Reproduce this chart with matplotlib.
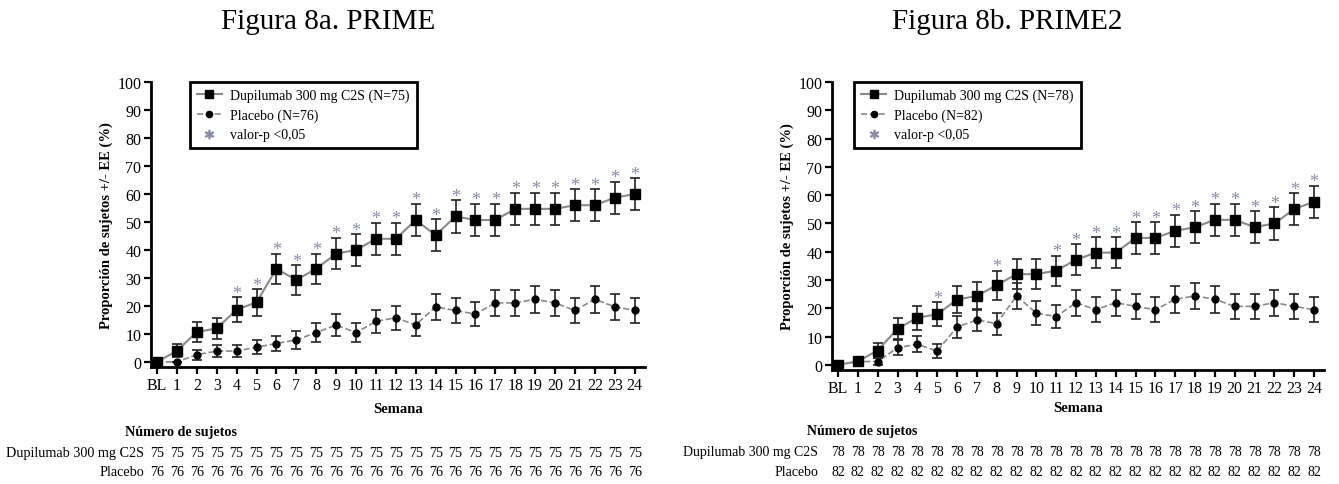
import matplotlib
matplotlib.use("Agg")
import matplotlib.pyplot as plt
from matplotlib.lines import Line2D
from matplotlib.transforms import blended_transform_factory

plt.rcParams['font.family'] = ['Liberation Serif', 'DejaVu Serif']

semanas = ['BL'] + [str(i) for i in range(1, 25)]

# Figura 8a - PRIME
dupi_a = [0, 4.0, 10.7, 12.0, 18.7, 21.3, 33.3, 29.3, 33.3, 38.7, 40.0, 44.0, 44.0,
          50.7, 45.3, 52.0, 50.7, 50.7, 54.7, 54.7, 54.7, 56.0, 56.0, 58.7, 60.0]
dupi_a_ee = [0, 2.3, 3.6, 3.8, 4.5, 4.7, 5.4, 5.3, 5.4, 5.6, 5.7, 5.7, 5.7,
             5.8, 5.7, 5.8, 5.8, 5.8, 5.7, 5.7, 5.7, 5.7, 5.7, 5.7, 5.7]
plac_a = [0, 0.0, 2.6, 3.9, 3.9, 5.3, 6.6, 7.9, 10.5, 13.2, 10.5, 14.5, 15.8,
          13.2, 19.7, 18.4, 17.1, 21.1, 21.1, 22.4, 21.1, 18.4, 22.4, 19.7, 18.4]
plac_a_ee = [0, 0, 1.8, 2.2, 2.2, 2.6, 2.8, 3.1, 3.5, 3.9, 3.5, 4.0, 4.2,
             3.9, 4.6, 4.4, 4.3, 4.7, 4.7, 4.8, 4.7, 4.4, 4.8, 4.6, 4.4]
sig_a = list(range(4, 25))
n_dupi_a = [75] * 25
n_plac_a = [76] * 25

# Figura 8b - PRIME2
dupi_b = [0, 1.3, 5.1, 12.8, 16.7, 17.9, 23.1, 24.4, 28.2, 32.1, 32.1, 33.3, 37.2,
          39.7, 39.7, 44.9, 44.9, 47.4, 48.7, 51.3, 51.3, 48.7, 50.0, 55.1, 57.7]
dupi_b_ee = [0, 1.3, 2.5, 3.8, 4.2, 4.3, 4.8, 4.9, 5.1, 5.3, 5.3, 5.3, 5.5,
             5.5, 5.5, 5.6, 5.6, 5.7, 5.7, 5.7, 5.7, 5.7, 5.7, 5.6, 5.6]
plac_b = [0, 1.2, 1.2, 6.1, 7.3, 4.9, 13.4, 15.9, 14.6, 24.4, 18.3, 17.1, 22.0,
          19.5, 22.0, 20.7, 19.5, 23.2, 24.4, 23.2, 20.7, 20.7, 22.0, 20.7, 19.5]
plac_b_ee = [0, 0, 1.2, 2.6, 2.9, 2.4, 3.8, 4.0, 3.9, 4.7, 4.3, 4.2, 4.6,
             4.4, 4.6, 4.5, 4.4, 4.7, 4.7, 4.7, 4.5, 4.5, 4.6, 4.5, 4.4]
sig_b = [5, 8] + list(range(11, 25))
n_dupi_b = [78] * 25
n_plac_b = [82] * 25

fig = plt.figure(figsize=(13.39, 4.85), dpi=100)


def panel(rect, titulo, tx, dupi, dupi_ee, plac, plac_ee, sig, n_d, n_p,
          lab_d, lab_p, leg_x, xpad, tab_lx, tab_hx, tab_y, tab_fs):
    ax = fig.add_axes(rect)
    x = list(range(len(semanas)))
    ax.errorbar(x, plac, yerr=plac_ee, color='#8a8a8a', ls='--', lw=1.2,
                marker='o', ms=5, mfc='black', mec='black',
                ecolor='#222222', elinewidth=1.2, capsize=3.5, capthick=1.2, zorder=2)
    ax.errorbar(x, dupi, yerr=dupi_ee, color='#8a8a8a', ls='-', lw=1.5,
                marker='s', ms=7.5, mfc='black', mec='black',
                ecolor='#222222', elinewidth=1.2, capsize=3.5, capthick=1.2, zorder=3)
    for s in sig:
        ax.text(s, dupi[s] + dupi_ee[s] - 1.6, '*', ha='center', va='bottom',
                fontsize=13, color='#8a8ca6')
    ax.set_xlim(-0.3, 24.5)
    ax.set_ylim(-1.8, 100)
    ax.set_xticks(x)
    ax.set_xticklabels(semanas)
    ax.set_yticks(range(0, 101, 10))
    for sp in ['top', 'right']:
        ax.spines[sp].set_visible(False)
    for sp in ['left', 'bottom']:
        ax.spines[sp].set_linewidth(2)
    ax.tick_params(width=1.6, length=5, labelsize=11.5, pad=2)
    ax.set_xlabel('Semana', fontsize=10.5, fontweight='bold', labelpad=xpad)
    ax.set_ylabel('Proporción de sujetos +/- EE (%)', fontsize=10.5,
                  fontweight='bold', labelpad=3)

    handles = [
        Line2D([], [], color='#8a8a8a', ls='-', lw=1.5, marker='s', ms=6,
               mfc='black', mec='black'),
        Line2D([], [], color='#8a8a8a', ls='--', lw=1.2, marker='o', ms=4.5,
               mfc='black', mec='black'),
        Line2D([], [], ls='none', marker='$*$', ms=6, color='#8a8ca6'),
    ]
    leg = ax.legend(handles, [lab_d, lab_p, 'valor-p <0,05'], loc='upper left',
                    bbox_to_anchor=(leg_x, 1.0), borderaxespad=0, fancybox=False,
                    edgecolor='black', fontsize=10, handlelength=1.8,
                    handletextpad=0.6, labelspacing=0.45, borderpad=0.5,
                    framealpha=1)
    leg.get_frame().set_linewidth(2)

    fig.text(tx, 0.955, titulo, ha='center', va='center', fontsize=21)

    tr = blended_transform_factory(ax.transData, fig.transFigure)
    fig.text(tab_hx, tab_y[0], 'Número de sujetos', ha='left', va='center',
             fontsize=tab_fs, fontweight='bold')
    fig.text(tab_lx, tab_y[1], 'Dupilumab 300 mg C2S', ha='right', va='center',
             fontsize=tab_fs)
    fig.text(tab_lx, tab_y[2], 'Placebo', ha='right', va='center', fontsize=tab_fs)
    for i in x:
        ax.text(i, tab_y[1], str(n_d[i]), transform=tr, ha='center',
                va='center', fontsize=tab_fs)
        ax.text(i, tab_y[2], str(n_p[i]), transform=tr, ha='center',
                va='center', fontsize=tab_fs)
    return ax


panel([0.1128, 0.2412, 0.3686, 0.5876], 'Figura 8a. PRIME', 0.245,
      dupi_a, dupi_a_ee, plac_a, plac_a_ee, sig_a, n_dupi_a, n_plac_a,
      'Dupilumab 300 mg C2S (N=75)', 'Placebo (N=76)', 0.079, 7,
      0.1075, 0.093, [0.109, 0.064, 0.025], 10.2)
panel([0.6214, 0.235, 0.3674, 0.5938], 'Figura 8b. PRIME2', 0.752,
      dupi_b, dupi_b_ee, plac_b, plac_b_ee, sig_b, n_dupi_b, n_plac_b,
      'Dupilumab 300 mg C2S (N=78)', 'Placebo (N=82)', 0.045, 4,
      0.611, 0.6027, [0.1113, 0.066, 0.0268], 10)

fig.savefig('out.png', dpi=100)
